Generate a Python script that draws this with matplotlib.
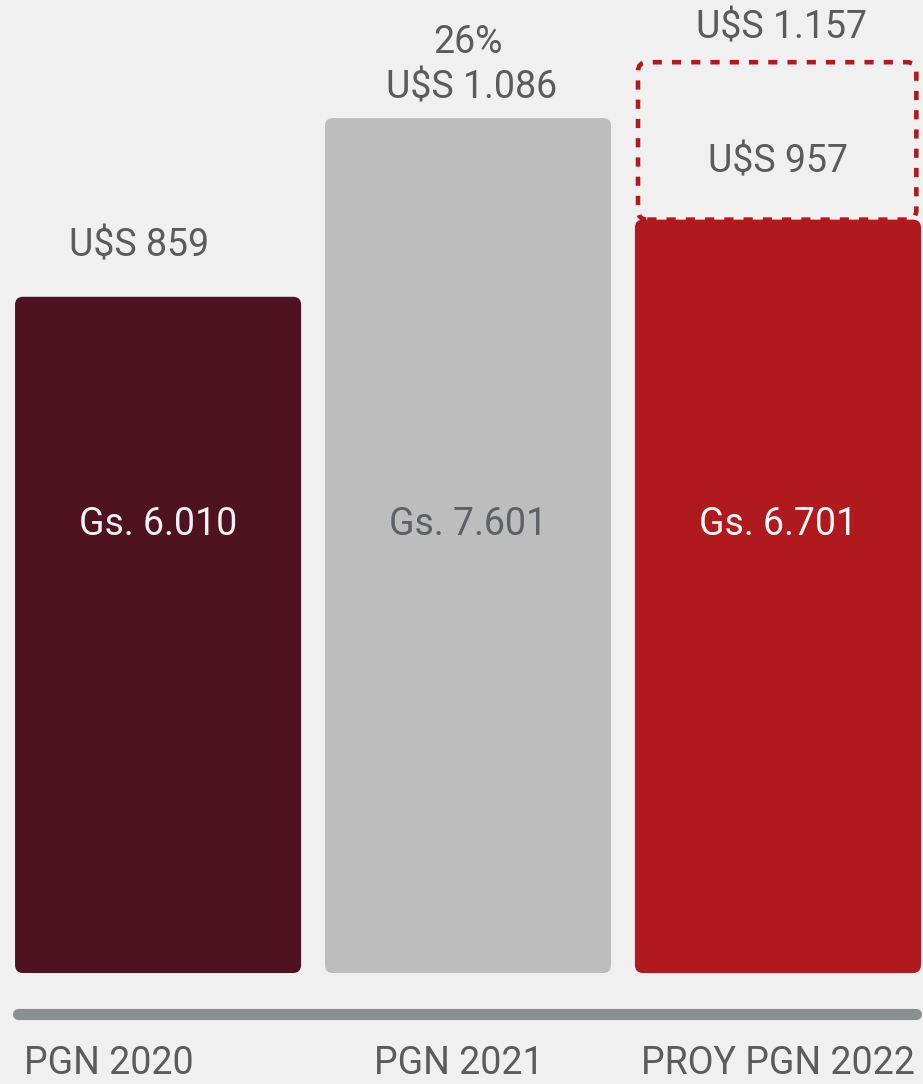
import matplotlib as mpl
import matplotlib.pyplot as plt
from matplotlib.patches import FancyBboxPatch

mpl.rcParams["font.family"] = ["Roboto", "DejaVu Sans"]

categories = ["PGN 2020", "PGN 2021", "PROY PGN 2022"]
usd_values = [859, 1086, 957]
gs_labels = ["Gs. 6.010", "Gs. 7.601", "Gs. 6.701"]
usd_labels = ["U$S 859", "U$S 1.086", "U$S 957"]
proj_usd = 1157
proj_label = "U$S 1.157"
growth_label = "26%"

BG = "#f0f0f0"
TXT = "#5b5b5b"
BAR_COLORS = ["#4e1220", "#bdbdbd", "#b0191d"]
INNER_TXT = ["#f2f2f2", "#5d6166", "#f7f7f7"]
DASH_COLOR = "#b0191d"

W = 0.923
FS = 27
fig = plt.figure(figsize=(9.23, 10.84), dpi=100, facecolor=BG)
ax = fig.add_axes([0, 0, 1, 1])
ax.set_facecolor(BG)
ax.set_xlim(-0.51, 2.468)
ax.set_ylim(-141, 1236)
ax.axis("off")

# y units per x unit at equal pixel length
aspect = (1377 / 1084) / (2.978 / 923)

for i, v in enumerate(usd_values):
    box = FancyBboxPatch((i - W / 2, 0), W, v,
                         boxstyle="round,pad=0,rounding_size=0.026",
                         mutation_aspect=aspect, facecolor=BAR_COLORS[i],
                         edgecolor="none", zorder=2)
    ax.add_patch(box)
    ax.text(i, 570, gs_labels[i], ha="center", va="center", fontsize=FS,
            color=INNER_TXT[i], zorder=3)

# projected range (dashed)
i = 2
dash = FancyBboxPatch((i - W / 2 + 0.01, usd_values[i]), W - 0.025, proj_usd - usd_values[i],
                      boxstyle="round,pad=0,rounding_size=0.03",
                      mutation_aspect=aspect, facecolor="none",
                      edgecolor=DASH_COLOR, linewidth=3.3,
                      linestyle=(0, (2, 2.2)), zorder=1)
ax.add_patch(dash)

# value labels above
kw = dict(ha="center", va="center", fontsize=FS, color=TXT)
ax.text(-0.06, usd_values[0] + 64, usd_labels[0], **kw)
ax.text(1.01, usd_values[1] + 38, usd_labels[1], **kw)
ax.text(1.0, 1182, growth_label, **kw)
ax.text(2.0, usd_values[2] + 73, usd_labels[2], **kw)
ax.text(2.01, proj_usd + 43, proj_label, **kw)

# baseline
ax.plot([-0.453, 2.447], [-52, -52], color="#8c8f90", linewidth=8,
        solid_capstyle="round", zorder=1)

label_x = [-0.16, 0.97, 2.0]
for x, c in zip(label_x, categories):
    ax.text(x, -115, c, ha="center", va="center", fontsize=27, color=TXT)

fig.savefig("out.png", dpi=100, facecolor=BG)
